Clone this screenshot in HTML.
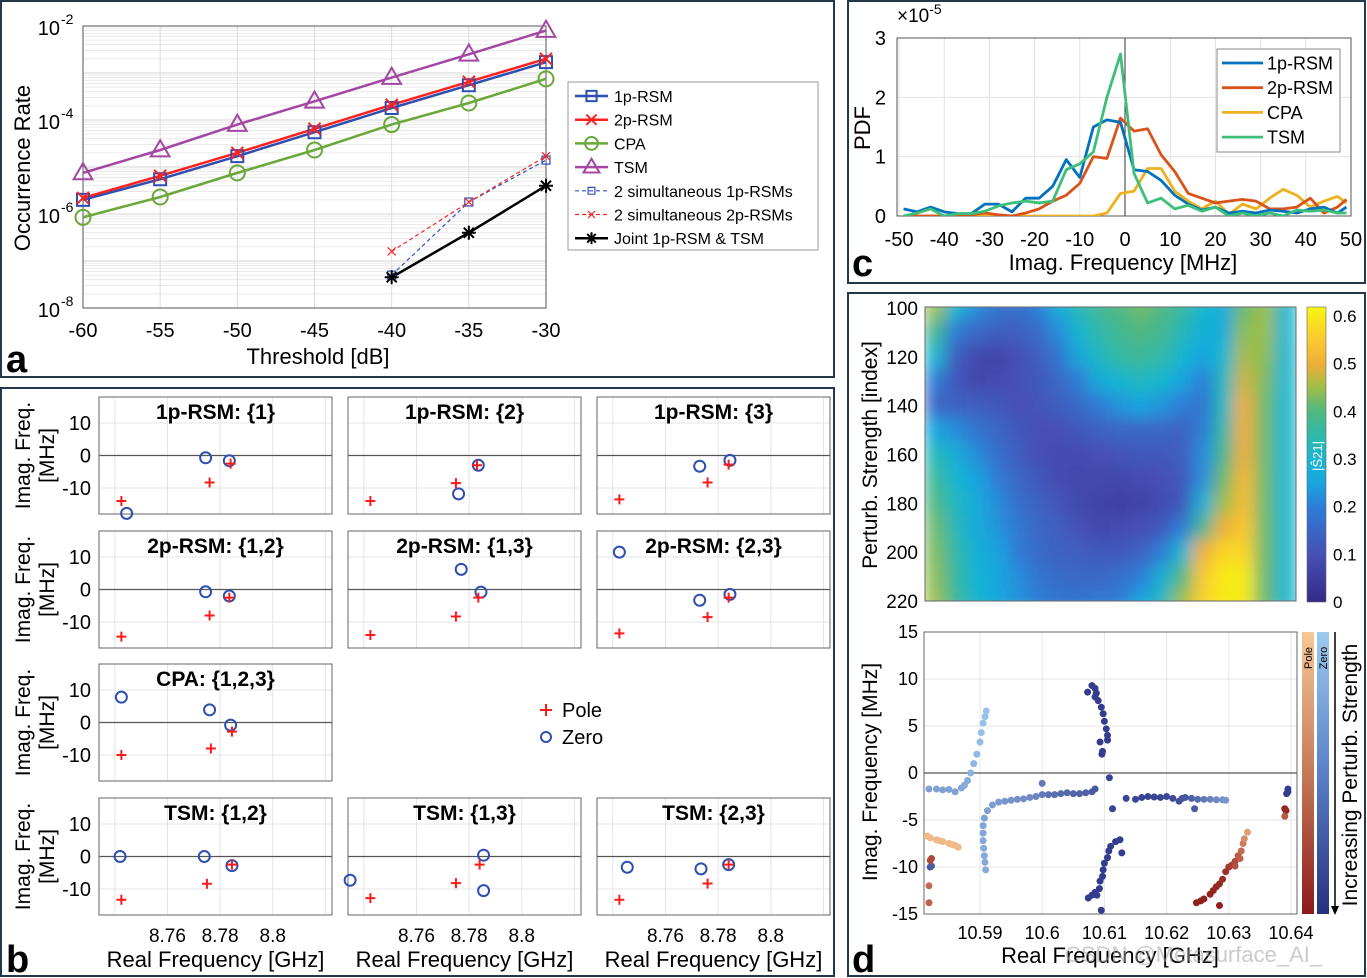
<!DOCTYPE html>
<html><head><meta charset="utf-8">
<style>
html,body{margin:0;padding:0;background:#fff;}
svg{display:block;font-family:"Liberation Sans",Arial,sans-serif;}
</style></head>
<body>
<svg id="fig" width="1367" height="978" viewBox="0 0 1367 978" xmlns="http://www.w3.org/2000/svg">
<defs>
<clipPath id="clipA"><rect x="83" y="26" width="463" height="282"/></clipPath>
<clipPath id="clipC"><rect x="897" y="38" width="454" height="178"/></clipPath>
<clipPath id="clipH"><rect x="925" y="307" width="371" height="294"/></clipPath>
<clipPath id="clipS"><rect x="924" y="632" width="373" height="282"/></clipPath>
<filter id="blurH" x="0" y="0" width="1" height="1"><feGaussianBlur stdDeviation="8" edgeMode="duplicate"/></filter>
<linearGradient id="gradPole" x1="0" y1="0" x2="0" y2="1"><stop offset="0" stop-color="#f7c796"/><stop offset="0.5" stop-color="#c47a5a"/><stop offset="1" stop-color="#8c1a1a"/></linearGradient>
<linearGradient id="gradZero" x1="0" y1="0" x2="0" y2="1"><stop offset="0" stop-color="#9ccbf0"/><stop offset="0.5" stop-color="#5a7fc8"/><stop offset="1" stop-color="#283080"/></linearGradient>
<linearGradient id="gradParula" x1="0" y1="1" x2="0" y2="0">
<stop offset="0" stop-color="#352a87"/><stop offset="0.161" stop-color="#4650b4"/><stop offset="0.323" stop-color="#2d7dd7"/><stop offset="0.403" stop-color="#19a5e0"/><stop offset="0.484" stop-color="#17b6d0"/><stop offset="0.565" stop-color="#30b8a8"/><stop offset="0.645" stop-color="#50b882"/><stop offset="0.726" stop-color="#9cbe48"/><stop offset="0.806" stop-color="#eeae38"/><stop offset="0.887" stop-color="#fac832"/><stop offset="0.968" stop-color="#f8ea18"/><stop offset="1" stop-color="#f8f514"/>
</linearGradient>
</defs>

<rect x="1" y="1" width="833" height="376" fill="none" stroke="#23384a" stroke-width="2"/>
<rect x="848" y="1" width="517" height="282" fill="none" stroke="#23384a" stroke-width="2"/>
<rect x="1" y="388" width="833" height="588" fill="none" stroke="#23384a" stroke-width="2"/>
<rect x="848" y="293" width="517" height="683" fill="none" stroke="#23384a" stroke-width="2"/>

<text x="6" y="372" font-size="38" font-weight="bold">a</text>
<text x="6" y="972" font-size="38" font-weight="bold">b</text>
<text x="852" y="276" font-size="38" font-weight="bold">c</text>
<text x="852" y="972" font-size="38" font-weight="bold">d</text>

<g id="gA"></g>
<text transform="translate(30,168) rotate(-90)" text-anchor="middle" font-size="22">Occurrence Rate</text>
<text x="318" y="364" text-anchor="middle" font-size="22">Threshold [dB]</text>
<g>
<rect x="568" y="82" width="250" height="168" fill="#fff" stroke="#999" stroke-width="1"/>
</g>
<g id="legA"></g>

<g id="gC"></g>
<text x="897" y="22" font-size="19">×10<tspan dy="-8" font-size="14">-5</tspan></text>
<text transform="translate(870,128) rotate(-90)" text-anchor="middle" font-size="22">PDF</text>
<text x="1123" y="270" text-anchor="middle" font-size="22">Imag. Frequency [MHz]</text>
<rect x="1217" y="49" width="123" height="103" fill="#fff" stroke="#888"/>
<g id="legC"></g>

<g id="gB"></g>
<g>
<rect x="528" y="690" width="110" height="68" fill="#fff" stroke="#fff"/>
<path d="M540 710 H552 M546 704 V716" stroke="#ff1a1a" stroke-width="2"/>
<text x="562" y="717" font-size="20">Pole</text>
<circle cx="546" cy="737" r="5" fill="none" stroke="#2f4fb0" stroke-width="2"/>
<text x="562" y="744" font-size="20">Zero</text>
</g>

<g id="gD"></g>
<text transform="translate(877,455) rotate(-90)" text-anchor="middle" font-size="21">Perturb. Strength [index]</text>
<text transform="translate(877,772) rotate(-90)" text-anchor="middle" font-size="21">Imag. Frequency [MHz]</text>
<text x="1110" y="963" text-anchor="middle" font-size="22">Real Frequency [GHz]</text>
<text x="1065" y="962" font-size="22" fill="rgba(160,160,160,0.55)">CSDN @Metasurface_AI_</text>
<rect x="1307" y="307" width="19" height="295" fill="url(#gradParula)" stroke="#666" stroke-width="0.6"/>
<text transform="translate(1322,456) rotate(-90)" text-anchor="middle" font-size="13" fill="#fff">|Ŝ21|</text>
<rect x="1302" y="632" width="12" height="282" fill="url(#gradPole)"/>
<rect x="1317" y="632" width="12" height="282" fill="url(#gradZero)"/>
<text transform="translate(1312,658) rotate(-90)" font-size="11" text-anchor="middle">Pole</text>
<text transform="translate(1327,658) rotate(-90)" font-size="11" text-anchor="middle">Zero</text>
<line x1="1335" y1="632" x2="1335" y2="910" stroke="#000" stroke-width="1.5"/>
<path d="M1331 906 L1339 906 L1335 915 Z" fill="#000"/>
<text transform="translate(1357,775) rotate(-90)" text-anchor="middle" font-size="21">Increasing Perturb. Strength</text>
</svg>

<script>
// ---------- data: panel a ----------
const thrA=[-60,-55,-50,-45,-40,-35,-30];
const rsm1A=[2e-6,5.5e-6,1.7e-5,5.5e-5,1.8e-4,5.5e-4,1.7e-3];
const rsm2A=[2.2e-6,6.5e-6,2e-5,6.5e-5,2.1e-4,6.5e-4,2e-3];
const cpaA=[8.5e-7,2.3e-6,7.5e-6,2.3e-5,8e-5,2.3e-4,7.5e-4];
const tsmA=[7.5e-6,2.3e-5,8e-5,2.5e-4,8e-4,2.5e-3,8e-3];
const thrB=[-40,-35,-30];
const sim1A=[5e-8,1.8e-6,1.4e-5];
const sim2A=[1.6e-7,1.8e-6,1.7e-5];
const jointA=[4.5e-8,4e-7,4e-6];
const xTicksA=[-60,-55,-50,-45,-40,-35,-30];
const yDecadesA=[-2,-4,-6,-8];
// ---------- data: panel c ----------
const binsC=[-49,-46,-43,-40,-37,-34,-31,-28,-25,-22,-19,-16,-13,-10,-7,-4,-1,2,5,8,11,14,17,20,23,26,29,32,35,38,41,44,47,49];
const pdf1p=[0.12,0.07,0.15,0.07,0.04,0.04,0.2,0.2,0.07,0.3,0.3,0.5,0.95,0.65,1.5,1.62,1.58,0.78,0.75,0.6,0.35,0.2,0.1,0.15,0.05,0.08,0.05,0.1,0.08,0.05,0.12,0.15,0.05,0.15];
const pdf2p=[0,0,0,0,0.02,0.02,0.05,0.02,0,0.05,0.12,0.25,0.35,0.55,1.0,0.97,1.65,1.43,1.47,1.03,0.75,0.38,0.3,0.22,0.25,0.28,0.25,0.12,0.12,0.15,0.3,0.05,0.15,0.28];
const pdfCPA=[0,0,0,0,0,0,0,0,0,0,0,0,0,0,0,0.05,0.38,0.42,0.8,0.8,0.42,0.25,0.12,0.25,0.03,0.2,0.12,0.3,0.45,0.35,0.15,0.25,0.33,0.22];
const pdfTSM=[0,0.05,0.12,0,0.04,0.04,0.08,0.17,0.22,0.25,0.22,0.25,0.78,0.88,1.08,2.0,2.73,0.72,0.22,0.3,0.12,0.18,0.08,0.15,0,0.05,0,0.05,0,0.1,0.08,0.1,0.05,0.05];
const xTicksC=[-50,-40,-30,-20,-10,0,10,20,30,40,50];
const yTicksC=[0,1,2,3];
// ---------- data: panel b ----------
const titlesB=["1p-RSM: {1}","1p-RSM: {2}","1p-RSM: {3}","2p-RSM: {1,2}","2p-RSM: {1,3}","2p-RSM: {2,3}","CPA: {1,2,3}","TSM: {1,2}","TSM: {1,3}","TSM: {2,3}"];
const cellB=[[0,0],[1,0],[2,0],[0,1],[1,1],[2,1],[0,2],[0,3],[1,3],[2,3]];
const polesB=[
 [[8.7425,-14],[8.776,-8.3],[8.784,-2.5]],
 [[8.7425,-14],[8.775,-8.5],[8.783,-3]],
 [[8.7425,-13.5],[8.776,-8.3],[8.784,-2.8]],
 [[8.7425,-14.5],[8.776,-8],[8.7835,-2.5]],
 [[8.7425,-14],[8.775,-8.3],[8.7835,-2.5]],
 [[8.7425,-13.5],[8.776,-8.5],[8.784,-2.5]],
 [[8.7425,-10],[8.7765,-8],[8.7845,-2.8]],
 [[8.7425,-13.3],[8.775,-8.4],[8.7845,-2.5]],
 [[8.7425,-12.8],[8.775,-8.2],[8.784,-2.5]],
 [[8.7425,-13.3],[8.776,-8.3],[8.784,-2.5]]];
const zerosB=[
 [[8.7445,-17.8],[8.7745,-0.7],[8.7835,-1.6]],
 [[8.776,-11.8],[8.7835,-3]],
 [[8.773,-3.3],[8.7845,-1.5]],
 [[8.7745,-0.7],[8.7835,-2]],
 [[8.777,6.2],[8.7845,-0.8]],
 [[8.7425,11.5],[8.773,-3.3],[8.7845,-1.5]],
 [[8.7425,7.8],[8.776,3.9],[8.784,-0.8]],
 [[8.742,0],[8.774,0],[8.7845,-2.8]],
 [[8.7348,-7.3],[8.7855,0.4],[8.7855,-10.5]],
 [[8.7455,-3.3],[8.7735,-3.8],[8.784,-2.5]]];
const xTicksB=[8.76,8.78,8.8];
const xGridB=[8.74,8.76,8.78,8.8,8.82];
const yTicksB=[10,0,-10];
// ---------- data: panel d heatmap ----------
const strengthRows=[100,110,120,130,140,150,160,170,180,190,200,210,220];
const heatVals=[
[0.45,0.3,0.22,0.18,0.17,0.2,0.27,0.33,0.38,0.4,0.42,0.4,0.36,0.3,0.27,0.42,0.45,0.3],
[0.38,0.2,0.15,0.13,0.13,0.16,0.22,0.3,0.35,0.38,0.4,0.38,0.33,0.28,0.27,0.44,0.45,0.3],
[0.3,0.13,0.08,0.07,0.1,0.13,0.18,0.26,0.32,0.36,0.37,0.35,0.3,0.25,0.3,0.46,0.44,0.3],
[0.2,0.12,0.08,0.09,0.1,0.12,0.15,0.2,0.27,0.3,0.32,0.3,0.25,0.2,0.32,0.48,0.43,0.3],
[0.15,0.14,0.13,0.12,0.1,0.11,0.13,0.16,0.2,0.23,0.25,0.23,0.2,0.18,0.32,0.5,0.42,0.3],
[0.25,0.22,0.18,0.15,0.12,0.1,0.1,0.12,0.14,0.15,0.15,0.15,0.14,0.2,0.35,0.5,0.42,0.3],
[0.33,0.28,0.22,0.17,0.13,0.1,0.09,0.09,0.1,0.11,0.12,0.12,0.13,0.22,0.38,0.5,0.42,0.3],
[0.37,0.3,0.25,0.2,0.15,0.12,0.09,0.08,0.08,0.08,0.09,0.1,0.12,0.22,0.42,0.52,0.42,0.3],
[0.4,0.32,0.27,0.22,0.17,0.14,0.11,0.08,0.07,0.06,0.07,0.09,0.12,0.28,0.45,0.53,0.42,0.3],
[0.42,0.33,0.27,0.23,0.19,0.15,0.13,0.1,0.08,0.09,0.1,0.12,0.2,0.38,0.5,0.55,0.42,0.3],
[0.43,0.35,0.28,0.25,0.2,0.16,0.14,0.13,0.12,0.12,0.14,0.2,0.3,0.5,0.57,0.57,0.42,0.3],
[0.44,0.36,0.29,0.26,0.22,0.18,0.16,0.15,0.15,0.17,0.2,0.28,0.4,0.55,0.6,0.6,0.42,0.3],
[0.45,0.37,0.3,0.26,0.23,0.2,0.18,0.18,0.19,0.2,0.25,0.32,0.45,0.56,0.6,0.6,0.42,0.3]];
const yTicksH=[100,120,140,160,180,200,220];
const cbTicks=[0,0.1,0.2,0.3,0.4,0.5,0.6];
// ---------- data: panel d scatter [GHz, MHz, strength 0..1] ----------
const zeroPts=[
[10.5909,-10.3,.2],[10.5908,-9.5,.2],[10.5907,-8.8,.2],[10.5906,-8,.2],[10.5905,-7.2,.2],[10.5905,-6.4,.22],[10.5905,-5.6,.22],[10.5907,-4.8,.24],[10.5912,-4.0,.26],[10.592,-3.4,.28],[10.593,-3.1,.3],[10.594,-3.0,.32],[10.595,-2.9,.34],[10.596,-2.8,.36],[10.597,-2.75,.38],[10.598,-2.6,.4],[10.599,-2.5,.42],[10.600,-2.3,.5],[10.601,-2.3,.55],[10.602,-2.3,.58],[10.603,-2.2,.6],[10.604,-2.1,.62],[10.605,-2.2,.64],[10.606,-2.2,.66],[10.607,-2.1,.68],[10.608,-2.0,.7],[10.6085,-1.7,.72],[10.6,-1.1,.5],
[10.5818,-1.7,.25],[10.583,-1.7,.25],[10.584,-1.8,.25],[10.585,-1.75,.25],[10.586,-2.0,.25],[10.587,-1.6,.22],[10.5875,-1.3,.2],[10.588,-0.8,.18],[10.5885,0,.15],[10.589,1.0,.12],[10.5895,2.0,.1],[10.59,3.3,.08],[10.5902,4.3,.06],[10.5905,5.3,.05],[10.5908,6.0,.04],[10.591,6.6,.03],
[10.6073,8.6,.9],[10.608,9.3,.9],[10.6085,9.0,.9],[10.6087,8.5,.9],[10.6085,8.1,.9],[10.609,7.7,.9],[10.6095,7.0,.9],[10.6098,6.3,.9],[10.61,5.5,.9],[10.6103,4.7,.9],[10.6105,4.0,.9],[10.6105,3.5,.9],[10.6093,3.3,.9],[10.6097,2.3,.9],[10.6096,2.0,.9],[10.6108,-0.5,.85],
[10.6074,-13.3,.9],[10.608,-13.0,.9],[10.6085,-12.7,.9],[10.6092,-12.3,.9],[10.6093,-11.5,.9],[10.6097,-11,.9],[10.6098,-10.3,.9],[10.61,-9.6,.9],[10.6105,-9.0,.9],[10.6107,-8.3,.9],[10.611,-7.8,.9],[10.6118,-7.3,.9],[10.6125,-7.1,.9],[10.6128,-8.5,.9],[10.6095,-14.6,.9],[10.6113,-3.8,.85],[10.6088,-13,.9],
[10.6135,-2.7,.85],[10.615,-2.8,.85],[10.616,-2.6,.85],[10.617,-2.5,.85],[10.618,-2.55,.85],[10.619,-2.6,.85],[10.620,-2.5,.82],[10.621,-2.7,.8],[10.622,-3.0,.78],[10.6225,-2.7,.75],[10.623,-2.6,.72],[10.624,-2.7,.68],[10.6245,-3.8,.7],[10.625,-2.8,.6],[10.626,-2.8,.5],[10.627,-2.8,.45],[10.628,-2.85,.4],[10.629,-2.85,.35],[10.6295,-2.9,.32],
[10.6395,-1.7,.9],[10.6395,-2.0,.9],[10.6393,-2.2,.9],[10.582,-10,.75],[10.5822,-9.9,.7]];
const polePts=[
[10.5815,-6.7,.05],[10.582,-6.9,.05],[10.583,-7.1,.05],[10.5835,-7.2,.05],[10.584,-7.3,.05],[10.585,-7.5,.05],[10.5855,-7.6,.05],[10.586,-7.7,.05],[10.5865,-7.9,.05],
[10.5822,-9.1,.7],[10.582,-9.3,.7],[10.5818,-12,.5],[10.5818,-13.8,.55],
[10.6248,-13.8,.95],[10.6255,-13.6,.95],[10.626,-13.4,.95],[10.627,-12.9,.93],[10.6275,-12.5,.92],[10.628,-12.1,.9],[10.6285,-11.8,.9],[10.629,-11.3,.88],[10.6295,-10.5,.85],[10.63,-10,.8],[10.6305,-9.8,.75],[10.631,-9.4,.7],[10.6315,-8.8,.6],[10.632,-8.3,.5],[10.6323,-7.5,.4],[10.6325,-7.0,.3],[10.633,-6.3,.2],[10.6285,-14.1,.95],[10.631,-9.9,.65],[10.6318,-9.1,.55],
[10.639,-3.8,.95],[10.6392,-4.0,.9],[10.639,-4.6,.6]];
const xTicksS=[10.59,10.6,10.61,10.62,10.63,10.64];
const xTickLabelsS=["10.59","10.6","10.61","10.62","10.63","10.64"];
const yTicksS=[15,10,5,0,-5,-10,-15];

// ---------- helpers ----------
const NS='http://www.w3.org/2000/svg';
function mk(tag,attrs,parent){const e=document.createElementNS(NS,tag);for(const k in attrs)e.setAttribute(k,attrs[k]);parent.appendChild(e);return e;}
function tx(s,x,y,attrs,parent){const e=mk('text',Object.assign({x:x,y:y},attrs),parent);e.textContent=s;return e;}
function markerPath(type,x,y,s){
  if(type==='sq')return `M${x-s} ${y-s}H${x+s}V${y+s}H${x-s}Z`;
  if(type==='x')return `M${x-s} ${y-s}L${x+s} ${y+s}M${x-s} ${y+s}L${x+s} ${y-s}`;
  if(type==='tri')return `M${x} ${y-s*1.15}L${x+s*1.1} ${y+s*0.75}L${x-s*1.1} ${y+s*0.75}Z`;
  if(type==='plus')return `M${x-s} ${y}H${x+s}M${x} ${y-s}V${y+s}`;
  if(type==='star')return `M${x-s} ${y}H${x+s}M${x} ${y-s}V${y+s}M${x-s*0.72} ${y-s*0.72}L${x+s*0.72} ${y+s*0.72}M${x-s*0.72} ${y+s*0.72}L${x+s*0.72} ${y-s*0.72}`;
  return '';
}
function marker(type,x,y,s,color,sw,parent){
  if(type==='circ')return mk('circle',{cx:x,cy:y,r:s,fill:'none',stroke:color,'stroke-width':sw},parent);
  return mk('path',{d:markerPath(type,x,y,s),fill:'none',stroke:color,'stroke-width':sw},parent);
}
function lerp(a,b,t){return a+(b-a)*t;}
const cmapStops=[[0,[53,42,135]],[0.1,[70,80,180]],[0.2,[45,125,215]],[0.25,[25,165,224]],[0.3,[23,182,208]],[0.35,[48,184,168]],[0.4,[80,184,130]],[0.45,[156,190,72]],[0.5,[238,174,56]],[0.55,[250,200,50]],[0.6,[248,234,24]],[0.62,[248,245,20]]];
function parula(v){const t=Math.max(0,Math.min(0.62,v));for(let i=1;i<cmapStops.length;i++){if(t<=cmapStops[i][0]){const a=cmapStops[i-1],b=cmapStops[i];const u=(t-a[0])/(b[0]-a[0]);return `rgb(${Math.round(lerp(a[1][0],b[1][0],u))},${Math.round(lerp(a[1][1],b[1][1],u))},${Math.round(lerp(a[1][2],b[1][2],u))})`;}}return 'rgb(248,245,20)';}
function blueC(t){return `rgb(${Math.round(lerp(156,40,t))},${Math.round(lerp(200,45,t))},${Math.round(lerp(238,130,t))})`;}
function redC(t){return `rgb(${Math.round(lerp(246,140,t))},${Math.round(lerp(192,22,t))},${Math.round(lerp(142,22,t))})`;}

// ---------- panel a ----------
(function(){
const g=document.getElementById('gA');
const L=83,R=546,T=26,B=308;
const xA=v=>L+(v+60)/30*(R-L);
const yA=v=>T+(-2-Math.log10(v))/6*(B-T);
for(let d=-8;d<-2;d++){for(let m=2;m<10;m++){const y=yA(m*Math.pow(10,d));
  const e=mk('line',{x1:L,x2:R,y1:y,y2:y,stroke:'#e6e6e6','stroke-width':0.8},g);
  
  }}
for(let d=-8;d<=-2;d++){const y=yA(Math.pow(10,d));
  const e=mk('line',{x1:L,x2:R,y1:y,y2:y,stroke:'#d4d4d4','stroke-width':1},g);
  
  }
xTicksA.forEach(v=>{const x=xA(v);
  const e=mk('line',{x1:x,x2:x,y1:T,y2:B,stroke:'#dcdcdc','stroke-width':1},g);
  
  
  const t=tx(String(v),x,337,{'text-anchor':'middle','font-size':20},g);
  
  });
yDecadesA.forEach(d=>{const y=yA(Math.pow(10,d));
  const t=tx('10',60,y+9,{'text-anchor':'end','font-size':20},g);
  
  
  const s=tx(String(d),61,y-2,{'font-size':14},g);
  
  });
const fr=mk('rect',{x:L,y:T,width:R-L,height:B-T,fill:'none',stroke:'#555','stroke-width':1},g);


const cg=mk('g',{'clip-path':'url(#clipA)'},g);
const series=[
 {xs:thrA,ys:cpaA,c:'#6aa83a',m:'circ',s:7.5,w:2.5,dash:null,n:'cpa'},
 {xs:thrA,ys:tsmA,c:'#a347a3',m:'tri',s:8.5,w:2.5,dash:null,n:'tsm'},
 {xs:thrA,ys:rsm1A,c:'#2f4fb0',m:'sq',s:6,w:2.5,dash:null,n:'1p-rsm'},
 {xs:thrA,ys:rsm2A,c:'#ff2020',m:'x',s:6,w:2.5,dash:null,n:'2p-rsm'},
 {xs:thrB,ys:sim1A,c:'#3050c0',m:'sq',s:4,w:1.2,dash:'4,3',n:'2-sim-1p-rsm'},
 {xs:thrB,ys:sim2A,c:'#ff2020',m:'x',s:4,w:1.2,dash:'4,3',n:'2-sim-2p-rsm'},
 {xs:thrB,ys:jointA,c:'#000',m:'star',s:7,w:2.5,dash:null,n:'joint-1p-rsm-tsm'}];
series.forEach(sr=>{
  const pts=sr.xs.map((v,i)=>xA(v)+','+yA(sr.ys[i])).join(' ');
  const a={points:pts,fill:'none',stroke:sr.c,'stroke-width':sr.w};
  if(sr.dash)a['stroke-dasharray']=sr.dash;
  const pl=mk('polyline',a,cg);
  
  
  sr.xs.forEach((v,i)=>{
    const mm=marker(sr.m,xA(v),yA(sr.ys[i]),sr.s,sr.c,sr.m==='star'?2:(sr.w>2?2:1.2),g);
    
    
  });
});
const lg=document.getElementById('legA');
const labels=['1p-RSM','2p-RSM','CPA','TSM','2 simultaneous 1p-RSMs','2 simultaneous 2p-RSMs','Joint 1p-RSM & TSM'];
const order=[2,3,0,1,4,5,6];
labels.forEach((lab,i)=>{const sr=series[order[i]];const y=96+i*23.7;
  const a={x1:575,x2:608,y1:y,y2:y,stroke:sr.c,'stroke-width':sr.w};
  if(sr.dash)a['stroke-dasharray']=sr.dash;
  const l=mk('line',a,lg);
  
  
  const mm=marker(sr.m,591.5,y,sr.s*0.85,sr.c,sr.w>2?2:1.2,lg);
  
  
  const t=tx(lab,614,y+6,{'font-size':16},lg);
  
  });
})();

// ---------- panel c ----------
(function(){
const g=document.getElementById('gC');
const L=897,R=1351,T=38,B=216;
const xC=v=>899+(v+50)/100*452;
const yC=v=>B-v/3*(B-T);
xTicksC.forEach(v=>{const x=xC(v);
  const e=mk('line',{x1:x,x2:x,y1:T,y2:B,stroke:'#e2e2e2'},g);
  
  
  const t=tx(String(v),x,246,{'text-anchor':'middle','font-size':20},g);
  
  });
yTicksC.forEach(v=>{const y=yC(v);
  const e=mk('line',{x1:L,x2:R,y1:y,y2:y,stroke:'#e2e2e2'},g);
  
  
  const t=tx(String(v),886,y+7,{'text-anchor':'end','font-size':20},g);
  
  });
const z=mk('line',{x1:xC(0),x2:xC(0),y1:T,y2:B,stroke:'#333','stroke-width':1},g);


const fr=mk('rect',{x:L,y:T,width:R-L,height:B-T,fill:'none',stroke:'#555'},g);


const cg=mk('g',{'clip-path':'url(#clipC)'},g);
const ser=[{d:pdfCPA,c:'#edb120',n:'cpa'},{d:pdf2p,c:'#d95319',n:'2p-rsm'},{d:pdf1p,c:'#0072bd',n:'1p-rsm'},{d:pdfTSM,c:'#3dbf7a',n:'tsm'}];
ser.forEach(s=>{const pts=binsC.map((v,i)=>xC(v)+','+yC(s.d[i])).join(' ');
  const p=mk('polyline',{points:pts,fill:'none',stroke:s.c,'stroke-width':2.8,'stroke-linejoin':'round'},cg);
  
  });
const lg=document.getElementById('legC');
const lab=['1p-RSM','2p-RSM','CPA','TSM'],col=['#0072bd','#d95319','#edb120','#3dbf7a'];
lab.forEach((l,i)=>{const y=63+i*24.7;
  const ln=mk('line',{x1:1222,x2:1263,y1:y,y2:y,stroke:col[i],'stroke-width':2.8},lg);
  
  
  const t=tx(l,1267,y+6.5,{'font-size':18},lg);
  
  });
})();

// ---------- panel b ----------
(function(){
const g=document.getElementById('gB');
const colL=[99,348,597],rowT=[397,531,664,798],W=233,H=117;
titlesB.forEach((title,k)=>{
  const L=colL[cellB[k][0]],T=rowT[cellB[k][1]];
  const xB=v=>L+(v-8.734)/0.0885*W;
  const yB=v=>T+(18-v)/36*H;
  const sg=mk('g',{},g);
  
  
  xGridB.forEach(v=>{const x=xB(v);if(x>L+1&&x<L+W-1){
    const e=mk('line',{x1:x,x2:x,y1:T,y2:T+H,stroke:'#e4e4e4'},sg);
    
    }});
  yTicksB.forEach(v=>{const y=yB(v);
    const e=mk('line',{x1:L,x2:L+W,y1:y,y2:y,stroke:v===0?'#555':'#e4e4e4','stroke-width':v===0?1.2:1},sg);
    
    });
  const fr=mk('rect',{x:L,y:T,width:W,height:H,fill:'none',stroke:'#666'},sg);
  
  
  if(cellB[k][0]===0){
    yTicksB.forEach(v=>{
      const t=tx(String(v),L-8,yB(v)+7,{'text-anchor':'end','font-size':20},sg);
      
      });
    const cy=T+H/2;
    const a=tx('Imag. Freq.',0,0,{transform:`translate(30,${cy}) rotate(-90)`,'text-anchor':'middle','font-size':21},sg);
    
    
    const b=tx('[MHz]',0,0,{transform:`translate(54,${cy}) rotate(-90)`,'text-anchor':'middle','font-size':21},sg);
    
    
  }
  if(cellB[k][1]===3){
    xTicksB.forEach(v=>{
      const t=tx(String(v),xB(v),942,{'text-anchor':'middle','font-size':19},sg);
      
      });
    const xl=tx('Real Frequency [GHz]',L+W/2,967,{'text-anchor':'middle','font-size':22},sg);
    
    
  }
  const tt=tx(title,L+W/2,T+22,{'text-anchor':'middle','font-size':21,'font-weight':'bold'},sg);
  
  
  zerosB[k].forEach(p=>{
    const c=mk('circle',{cx:xB(p[0]),cy:yB(p[1]),r:5.5,fill:'none',stroke:'#2f4fb0','stroke-width':2},sg);
    
    });
  polesB[k].forEach(p=>{
    const m=mk('path',{d:markerPath('plus',xB(p[0]),yB(p[1]),5),stroke:'#ff1a1a','stroke-width':2,fill:'none'},sg);
    
    });
});
})();

// ---------- panel d ----------
(function(){
const g=document.getElementById('gD');
const HL=925,HR=1296,HT=307,HB=601;
const nC=heatVals[0].length;
const cw=(HR-HL)/nC;
const yH=v=>308+(v-100)/120*293;
const rh=293/12;
const clipG=mk('g',{'clip-path':'url(#clipH)'},g);
const hg=mk('g',{filter:'url(#blurH)'},clipG);


strengthRows.forEach((s,r)=>{heatVals[r].forEach((v,c)=>{
  const e=mk('rect',{x:HL+c*cw-0.5,y:yH(s)-rh/2-0.5,width:cw+1,height:rh+1,fill:parula(v)},hg);
  
  });});
const hf=mk('rect',{x:HL,y:HT,width:HR-HL,height:HB-HT,fill:'none',stroke:'#666'},g);


yTicksH.forEach(v=>{
  const t=tx(String(v),918,yH(v)+7,{'text-anchor':'end','font-size':19},g);
  
  });
cbTicks.forEach(v=>{const y=602-v*476.7;
  const t=tx(String(v),1333,y+6,{'font-size':17},g);
  
  });
const SL=924,SR=1297,ST=632,SB=914;
const xS=v=>980+(v-10.59)/0.01*62.2;
const yS=v=>773-v*9.4;
xTicksS.forEach((v,i)=>{const x=xS(v);
  const e=mk('line',{x1:x,x2:x,y1:ST,y2:SB,stroke:'#e6e6e6'},g);
  
  
  const t=tx(xTickLabelsS[i],x,939,{'text-anchor':'middle','font-size':18},g);
  
  });
yTicksS.forEach(v=>{const y=yS(v);
  const e=mk('line',{x1:SL,x2:SR,y1:y,y2:y,stroke:v===0?'#555':'#e6e6e6','stroke-width':v===0?1.2:1},g);
  
  
  const t=tx(String(v),918,y+6,{'text-anchor':'end','font-size':18},g);
  
  });
const sf=mk('rect',{x:SL,y:ST,width:SR-SL,height:SB-ST,fill:'none',stroke:'#666'},g);


const pg=mk('g',{'clip-path':'url(#clipS)'},g);
zeroPts.forEach(p=>{
  const c=mk('circle',{cx:xS(p[0]),cy:yS(p[1]),r:3.5,fill:blueC(p[2])},pg);
  
  });
polePts.forEach(p=>{
  const c=mk('circle',{cx:xS(p[0]),cy:yS(p[1]),r:3.5,fill:redC(p[2])},pg);
  
  });
})();
</script>
</body></html>
